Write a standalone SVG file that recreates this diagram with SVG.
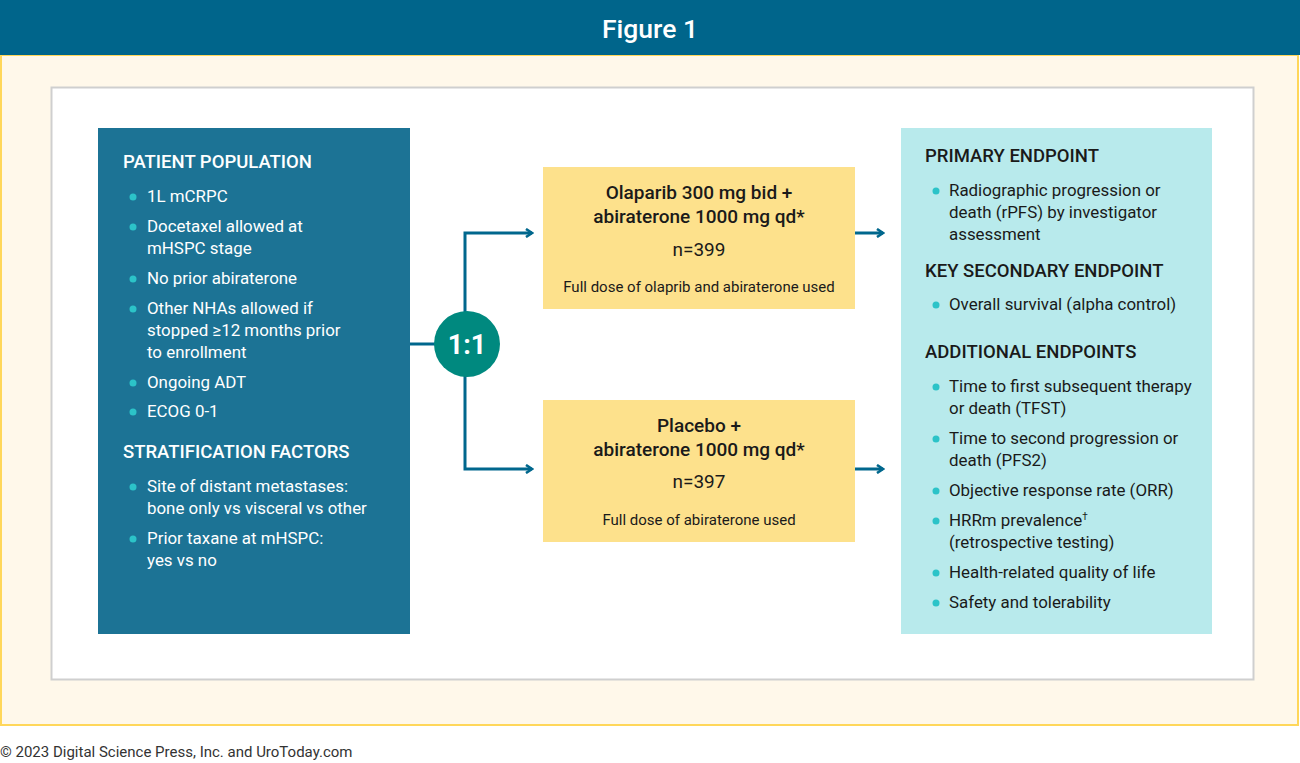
<svg xmlns="http://www.w3.org/2000/svg" width="1300" height="763" viewBox="0 0 1300 763">
<defs>
<style>
text{font-family:Roboto,"Open Sans","Liberation Sans",sans-serif;}
.hd{font-size:18.5px;font-weight:500;}
.bd{font-size:16.9px;}
.wh{fill:#ffffff;}
.dk{fill:#1a1a1a;}
.bul{fill:#2cc3c8;}
.conn{fill:none;stroke:#00678d;stroke-width:3;}
.arm{font-size:19px;font-weight:500;fill:#1a1a1a;text-anchor:middle;}
.n{font-size:19px;fill:#1a1a1a;text-anchor:middle;}
.sm{font-size:15px;fill:#1a1a1a;text-anchor:middle;}
</style>
<marker id="arr" viewBox="0 0 10 10" refX="8" refY="5" markerWidth="10" markerHeight="10" markerUnits="userSpaceOnUse" orient="auto">
<path d="M2,1 L8,5 L2,9" fill="none" stroke="#00678d" stroke-width="2.6"/>
</marker>
</defs>
<rect x="0" y="0" width="1300" height="763" fill="#ffffff"/>
<rect x="1" y="55" width="1297" height="670" fill="#fff8ea" stroke="#ffd75a" stroke-width="2"/>
<rect x="0" y="0" width="1300" height="55" fill="#00658b"/>
<text x="650" y="38" text-anchor="middle" font-size="26.5" font-weight="500" class="wh">Figure 1</text>
<rect x="51.5" y="87.5" width="1202" height="592" fill="#ffffff" stroke="#cfcfcf" stroke-width="2"/>

<g id="connectors">
<line x1="410" y1="344" x2="440" y2="344" class="conn"/>
<polyline points="465,312 465,233 532,233" class="conn" marker-end="url(#arr)"/>
<polyline points="465,376 465,469 532,469" class="conn" marker-end="url(#arr)"/>
<line x1="855" y1="233" x2="883" y2="233" class="conn" marker-end="url(#arr)"/>
<line x1="855" y1="469" x2="883" y2="469" class="conn" marker-end="url(#arr)"/>
</g>

<g id="patient-population">
<rect x="98" y="128" width="312" height="506" fill="#1c7395"/>
<text x="123" y="168" class="hd wh">PATIENT POPULATION</text>
<g class="bul">
<circle cx="133" cy="197" r="3.5"/><circle cx="133" cy="227" r="3.5"/><circle cx="133" cy="279" r="3.5"/><circle cx="133" cy="309" r="3.5"/><circle cx="133" cy="383" r="3.5"/><circle cx="133" cy="412" r="3.5"/><circle cx="133" cy="487" r="3.5"/><circle cx="133" cy="539" r="3.5"/>
</g>
<g class="bd wh">
<text x="147" y="202">1L mCRPC</text>
<text x="147" y="232">Docetaxel allowed at</text>
<text x="147" y="254">mHSPC stage</text>
<text x="147" y="284">No prior abiraterone</text>
<text x="147" y="314">Other NHAs allowed if</text>
<text x="147" y="336">stopped ≥12 months prior</text>
<text x="147" y="358">to enrollment</text>
<text x="147" y="388">Ongoing ADT</text>
<text x="147" y="417">ECOG 0-1</text>
</g>
<text x="123" y="458" class="hd wh">STRATIFICATION FACTORS</text>
<g class="bd wh">
<text x="147" y="492">Site of distant metastases:</text>
<text x="147" y="514">bone only vs visceral vs other</text>
<text x="147" y="544">Prior taxane at mHSPC:</text>
<text x="147" y="566">yes vs no</text>
</g>
</g>

<g id="randomisation">
<circle cx="467" cy="344" r="33" fill="#00897f"/>
<text x="467" y="354" text-anchor="middle" font-size="27" font-weight="700" class="wh">1:1</text>
</g>

<g id="arm-olaparib">
<rect x="543" y="167" width="312" height="142" fill="#fde18c"/>
<text x="699" y="199" class="arm">Olaparib 300 mg bid +</text>
<text x="699" y="223" class="arm">abiraterone 1000 mg qd*</text>
<text x="699" y="256" class="n">n=399</text>
<text x="699" y="292" class="sm">Full dose of olaprib and abiraterone used</text>
</g>

<g id="arm-placebo">
<rect x="543" y="400" width="312" height="142" fill="#fde18c"/>
<text x="699" y="432" class="arm">Placebo +</text>
<text x="699" y="456" class="arm">abiraterone 1000 mg qd*</text>
<text x="699" y="488" class="n">n=397</text>
<text x="699" y="525" class="sm">Full dose of abiraterone used</text>
</g>

<g id="endpoints">
<rect x="901" y="128" width="311" height="506" fill="#b8eaec"/>
<text x="925" y="162" class="hd dk">PRIMARY ENDPOINT</text>
<text x="925" y="277" class="hd dk">KEY SECONDARY ENDPOINT</text>
<text x="925" y="358" class="hd dk">ADDITIONAL ENDPOINTS</text>
<g class="bul">
<circle cx="936" cy="191" r="3.5"/><circle cx="936" cy="305" r="3.5"/><circle cx="936" cy="387" r="3.5"/><circle cx="936" cy="439" r="3.5"/><circle cx="936" cy="491" r="3.5"/><circle cx="936" cy="521" r="3.5"/><circle cx="936" cy="573" r="3.5"/><circle cx="936" cy="603" r="3.5"/>
</g>
<g class="bd dk">
<text x="949" y="196">Radiographic progression or</text>
<text x="949" y="218">death (rPFS) by investigator</text>
<text x="949" y="240">assessment</text>
<text x="949" y="310">Overall survival (alpha control)</text>
<text x="949" y="392">Time to first subsequent therapy</text>
<text x="949" y="414">or death (TFST)</text>
<text x="949" y="444">Time to second progression or</text>
<text x="949" y="466">death (PFS2)</text>
<text x="949" y="496">Objective response rate (ORR)</text>
<text x="949" y="526">HRRm prevalence<tspan font-size="10" dy="-6">†</tspan></text>
<text x="949" y="548">(retrospective testing)</text>
<text x="949" y="578">Health-related quality of life</text>
<text x="949" y="608">Safety and tolerability</text>
</g>
</g>

<text x="0" y="757" font-size="15" fill="#333333">© 2023 Digital Science Press, Inc. and UroToday.com</text>
</svg>
